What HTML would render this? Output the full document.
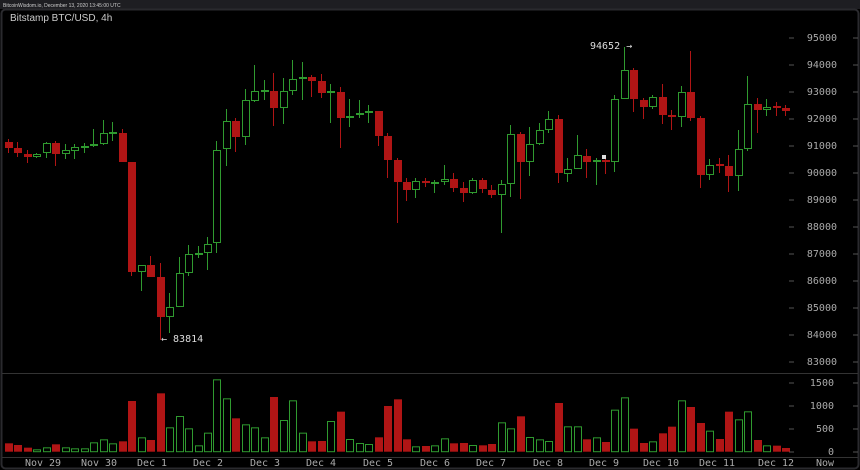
<!DOCTYPE html>
<html><head><meta charset="utf-8"><style>
html,body{margin:0;padding:0;background:#000;width:860px;height:470px;overflow:hidden}
svg{display:block}
text{font-family:"DejaVu Sans Mono","Liberation Mono",monospace;font-size:10px;fill:#aaa}
</style></head><body>
<svg id="s" width="860" height="470" xmlns="http://www.w3.org/2000/svg">
<rect x="0" y="0" width="860" height="470" fill="#000"/>
<rect x="0" y="0" width="860" height="9" fill="#1e1e22"/>
<text x="3" y="7" style="font-family:'Liberation Sans',sans-serif;font-size:5px;fill:#ccc">BitcoinWisdom.io, December 13, 2020 13:45:00 UTC</text>
<rect x="1.5" y="9.5" width="857" height="459" rx="4" fill="none" stroke="#2a2a2e" stroke-width="2"/>
<text x="10" y="21" style="font-family:'Liberation Sans',sans-serif;font-size:10px;fill:#ccc">Bitstamp BTC/USD, 4h</text>
<line x1="2" y1="373.5" x2="858" y2="373.5" stroke="#333" stroke-width="1"/>
<line x1="2" y1="457.5" x2="858" y2="457.5" stroke="#333" stroke-width="1"/>
<g id="ax"></g>
<g id="vol"></g>
<g id="cdl"></g>
<text x="590" y="49" style="fill:#ddd">94652 →</text>
<text x="161" y="342" style="fill:#ddd">← 83814</text>
<rect x="602" y="155" width="4" height="4" fill="#ddd"/>
<text x="837" y="41" text-anchor="end">95000</text>
<text x="837" y="68" text-anchor="end">94000</text>
<text x="837" y="95" text-anchor="end">93000</text>
<text x="837" y="122" text-anchor="end">92000</text>
<text x="837" y="149" text-anchor="end">91000</text>
<text x="837" y="176" text-anchor="end">90000</text>
<text x="837" y="203" text-anchor="end">89000</text>
<text x="837" y="230" text-anchor="end">88000</text>
<text x="837" y="257" text-anchor="end">87000</text>
<text x="837" y="284" text-anchor="end">86000</text>
<text x="837" y="311" text-anchor="end">85000</text>
<text x="837" y="338" text-anchor="end">84000</text>
<text x="837" y="365" text-anchor="end">83000</text>
<text x="834" y="386" text-anchor="end">1500</text>
<text x="834" y="409" text-anchor="end">1000</text>
<text x="834" y="432" text-anchor="end">500</text>
<text x="834" y="455" text-anchor="end">0</text>
<text x="43" y="466" text-anchor="middle">Nov 29</text>
<text x="99" y="466" text-anchor="middle">Nov 30</text>
<text x="152" y="466" text-anchor="middle">Dec 1</text>
<text x="208" y="466" text-anchor="middle">Dec 2</text>
<text x="265" y="466" text-anchor="middle">Dec 3</text>
<text x="321" y="466" text-anchor="middle">Dec 4</text>
<text x="378" y="466" text-anchor="middle">Dec 5</text>
<text x="435" y="466" text-anchor="middle">Dec 6</text>
<text x="491" y="466" text-anchor="middle">Dec 7</text>
<text x="548" y="466" text-anchor="middle">Dec 8</text>
<text x="604" y="466" text-anchor="middle">Dec 9</text>
<text x="661" y="466" text-anchor="middle">Dec 10</text>
<text x="717" y="466" text-anchor="middle">Dec 11</text>
<text x="776" y="466" text-anchor="middle">Dec 12</text>
<text x="825" y="466" text-anchor="middle">Now</text>
</svg>
<script>
var NS="http://www.w3.org/2000/svg";
function el(p,t,a){var e=document.createElementNS(NS,t);for(var k in a)e.setAttribute(k,a[k]);p.appendChild(e);return e;}
var ax=document.getElementById('ax');
for(var i=0;i<13;i++){var y=38+i*27;el(ax,'line',{x1:789,x2:794,y1:y,y2:y,stroke:'#555'});el(ax,'line',{x1:853,x2:858,y1:y,y2:y,stroke:'#555'});}
[383,406,429,452].forEach(function(y){el(ax,'line',{x1:789,x2:794,y1:y,y2:y,stroke:'#555'});el(ax,'line',{x1:853,x2:858,y1:y,y2:y,stroke:'#555'});});
// [color, bodyTop, bodyBot, wickTop, wickBot]
var C=[
['r',142,148,139,153],['r',148,153,142,157],['r',154,157,150,163],['g',154,157,153,158],['g',143,153,142,158],
['r',143,154,141,166],['g',150,154,144,159],['g',147,151,144,159],['g',147,147,143,153],['g',144,146,129,147],
['g',133,144,120,145],['g',133,133,122,141],['r',133,162,129,162],['r',162,272,162,276],['g',265,272,265,291],
['r',265,277,256,277],['r',277,317,263,340],['g',307,317,293,333],['g',273,307,257,307],['g',254,273,245,276],
['g',254,254,246,258],['g',244,253,237,270],['g',150,243,141,253],['g',121,149,109,166],['r',121,137,118,152],
['g',100,137,89,145],['g',91,101,65,102],['g',91,91,80,100],['r',91,108,73,126],['g',91,108,78,124],
['g',79,91,60,95],['g',78,78,62,100],['r',77,81,75,97],['r',81,93,74,98],['g',92,92,84,123],
['r',92,118,87,148],['g',116,118,99,127],['g',114,115,100,118],['g',111,113,105,123],['r',111,136,111,146],
['r',136,160,133,178],['r',160,182,158,223],['r',182,190,178,201],['g',181,190,178,198],['r',181,183,178,187],
['g',183,183,180,193],['g',179,182,165,185],['r',179,188,173,192],['r',188,193,182,202],['g',180,193,178,194],
['r',180,189,178,193],['r',190,195,185,198],['g',184,195,180,233],['g',134,184,125,197],['r',134,162,132,199],
['g',144,162,127,176],['g',130,144,123,145],['g',119,130,111,133],['r',119,173,115,183],['g',169,174,158,182],
['g',155,169,135,169],['r',156,162,149,178],['g',161,161,158,185],['r',160,162,155,174],['g',99,162,95,172],
['g',70,99,47,99],['r',70,99,68,112],['r',100,107,98,119],['g',97,107,95,109],['r',97,115,84,124],
['r',116,116,110,130],['g',92,117,86,127],['r',92,118,51,121],['r',118,175,116,188],['g',165,175,159,180],
['r',165,165,158,173],['r',166,176,155,192],['g',149,176,130,191],['g',104,149,76,151],['r',104,110,98,133],
['g',107,110,99,116],['r',107,107,102,116],['r',108,111,105,116]];
var V=[220,225,233,238,232,223,232,235,235,217,208,220,214,93,202,210,70,172,138,175,226,188,28,85,145,163,172,202,81,150,91,188,214,213,153,125,207,219,222,202,108,88,208,229,228,226,205,220,219,225,226,222,157,175,139,201,208,213,99,169,169,208,202,216,119,82,176,219,214,190,170,91,111,159,182,207,125,148,124,210,226,227,234];
var RED='#b01515',GRN='#2f9a2f';
var cg=document.getElementById('cdl'),vg=document.getElementById('vol');
C.forEach(function(c,i){
 var x=Math.round(8+i*9.476);var col=c[0]=='r'?RED:GRN;
 el(cg,'line',{x1:x+0.5,x2:x+0.5,y1:c[3],y2:c[4],stroke:col,'stroke-width':1});
 var h=c[2]-c[1];
 if(h<2){el(cg,'rect',{x:x-3,y:c[1]-1,width:8,height:2,fill:col});}
 else if(c[0]=='r'){el(cg,'rect',{x:x-3,y:c[1],width:8,height:h,fill:col});}
 else{el(cg,'rect',{x:x-2.5,y:c[1]+0.5,width:7,height:h-1,fill:'#000',stroke:col,'stroke-width':1});}
 var vt=370+V[i]/3,vb=451.7;
 if(c[0]=='r')el(vg,'rect',{x:x-3,y:vt,width:8,height:vb-vt,fill:RED});
 else el(vg,'rect',{x:x-2.5,y:vt+0.5,width:7,height:vb-vt-0.5,fill:'none',stroke:GRN,'stroke-width':1});
});
</script>
</body></html>
